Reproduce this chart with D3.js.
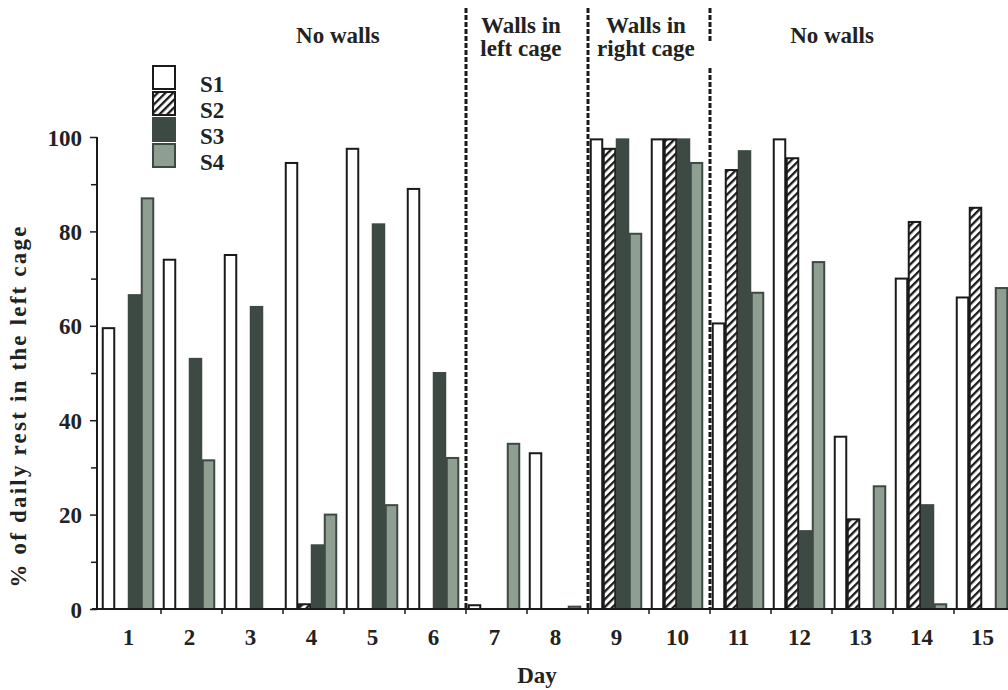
<!DOCTYPE html>
<html>
<head>
<meta charset="utf-8">
<script src="https://cdn.jsdelivr.net/npm/d3@7"></script>
<style>
  body { margin: 0; background: #fff; }
  svg text { font-family: "Liberation Serif", "Times New Roman", serif; font-weight: bold; fill: #222; }
</style>
</head>
<body>
<script>
const days = [1, 2, 3, 4, 5, 6, 7, 8, 9, 10, 11, 12, 13, 14, 15];
const series = ["S1", "S2", "S3", "S4"];
const s1 = [59.5, 74, 75, 94.5, 97.5, 89, 0.8, 33, 99.5, 99.5, 60.5, 99.5, 36.5, 70, 66];
const s2 = [0, 0, 0, 1, 0, 0, 0, 0, 97.5, 99.5, 93, 95.5, 19, 82, 85];
const s3 = [66.5, 53, 64, 13.5, 81.5, 50, 0, 0, 99.5, 99.5, 97, 16.5, 0, 22, 0];
const s4 = [87, 31.5, 0, 20, 22, 32, 35, 0.5, 79.5, 94.5, 67, 73.5, 26, 1, 68];
const yTicks = [0, 20, 40, 60, 80, 100];
const phaseLabels = [["No walls"], ["Walls in", "left cage"], ["Walls in", "right cage"], ["No walls"]];
const phaseStarts = [7, 9, 11];

const values = [s1, s2, s3, s4];
const w = 1008, h = 690;

const svg = d3.select("body")
              .append("svg")
              .attr("width", w)
              .attr("height", h)

const defs = svg.append("defs")
defs.append("pattern")
    .attr("id", "hatch")
    .attr("patternUnits", "userSpaceOnUse")
    .attr("width", 5.5)
    .attr("height", 5.5)
    .attr("patternTransform", "rotate(45)")
    .call(p => {
      p.append("rect").attr("width", 5.5).attr("height", 5.5).attr("fill", "#fff")
      p.append("rect").attr("x", 0).attr("width", 2.3).attr("height", 5.5).attr("fill", "#1a1a1a")
    })

const fills = {S1: "#fff", S2: "url(#hatch)", S3: "#3d4a44", S4: "#8e9f92"};
const strokes = {S1: "#1a1a1a", S2: "#1a1a1a", S3: "#3d4a44", S4: "#3d4a44"};

const x = d3.scaleBand()
            .domain(days)
            .range([100, 100 + 61 * 15])

const xs = d3.scaleBand()
             .domain(series)
             .range([2, 54])

const y = d3.scaleLinear()
            .domain([0, 100])
            .range([609, 137])

// y axis
const yAxis = d3.axisLeft(y)
                .tickValues(yTicks)
                .tickSize(7)
                .tickPadding(8)
                .tickFormat(d3.format("d"))

svg.append("g")
   .attr("transform", "translate(97,0)")
   .call(yAxis)
   .call(g => g.select(".domain").remove())
   .call(g => g.selectAll(".tick text").style("font-size", "23px").attr("dy", "0.35em"))
   .call(g => g.selectAll(".tick line").attr("stroke", "#1a1a1a").attr("stroke-width", 1.5))

svg.append("g")
   .attr("transform", "translate(97,0)")
   .call(d3.axisLeft(y).tickValues([10, 30, 50, 70, 90]).tickSize(6).tickFormat(""))
   .call(g => g.select(".domain").remove())
   .call(g => g.selectAll(".tick line").attr("stroke", "#1a1a1a").attr("stroke-width", 1.5))

svg.append("line")
   .attr("x1", 97).attr("x2", 97)
   .attr("y1", y(100)).attr("y2", y(0))
   .attr("stroke", "#1a1a1a")
   .attr("stroke-width", 2)

// bars
const groups = svg.append("g")
                  .selectAll("g")
                  .data(days)
                  .enter()
                  .append("g")
                  .attr("transform", d => "translate(" + x(d) + ",0)")

groups.selectAll("rect")
      .data((d, i) => series.map((s, k) => ({s: s, v: values[k][i]})))
      .enter()
      .filter(d => d.v > 0)
      .append("rect")
      .attr("x", d => xs(d.s) + 0.75)
      .attr("width", xs.bandwidth() - 1.5)
      .attr("y", d => y(d.v))
      .attr("height", d => y(0) - y(d.v))
      .attr("fill", d => fills[d.s])
      .attr("stroke", d => strokes[d.s])
      .attr("stroke-width", 2)

// x axis
svg.append("line")
   .attr("x1", 92).attr("x2", w)
   .attr("y1", y(0)).attr("y2", y(0))
   .attr("stroke", "#1a1a1a")
   .attr("stroke-width", 2)

const xAxis = d3.axisBottom(x)
                .tickSize(0)
                .tickPadding(20)

svg.append("g")
   .attr("transform", "translate(-2," + y(0) + ")")
   .call(xAxis)
   .call(g => g.select(".domain").remove())
   .call(g => g.selectAll(".tick text").style("font-size", "23px"))

svg.append("g")
   .selectAll("line")
   .data(days.slice(1))
   .enter()
   .append("line")
   .attr("x1", d => x(d)).attr("x2", d => x(d))
   .attr("y1", y(0)).attr("y2", y(0) + 5)
   .attr("stroke", "#1a1a1a")
   .attr("stroke-width", 1.5)

// phase separators
phaseStarts.forEach(d => {
  const segs = d === 11 ? [[8, 42], [68, y(0)]] : [[8, y(0)]];
  segs.forEach(s => {
    svg.append("line")
       .attr("x1", x(d)).attr("x2", x(d))
       .attr("y1", s[0]).attr("y2", s[1])
       .attr("stroke", "#1a1a1a")
       .attr("stroke-width", 3)
       .attr("stroke-dasharray", "5,2")
  })
})

// phase labels (placed over the days below them, as in the figure)
const labelDay = [4.9, 7.9, 9.95, 13.0];
phaseLabels.forEach((lines, j) => {
  const cx = x(Math.floor(labelDay[j])) + x.bandwidth() * (labelDay[j] % 1);
  const t = svg.append("text")
               .attr("text-anchor", "middle")
               .style("font-size", "23px")
  if (lines.length === 1) {
    t.attr("x", cx).attr("y", 43).text(lines[0])
  } else {
    lines.forEach((l, i) => {
      t.append("tspan").attr("x", cx).attr("y", 33 + i * 23).text(l)
    })
  }
})

// legend
const legend = svg.append("g")
                  .attr("id", "legend")
series.forEach((s, i) => {
  legend.append("rect")
        .attr("x", 153)
        .attr("y", 66 + i * 26)
        .attr("width", 22)
        .attr("height", 23)
        .attr("fill", fills[s])
        .attr("stroke", strokes[s])
        .attr("stroke-width", 2)
  legend.append("text")
        .attr("x", 200)
        .attr("y", 92 + i * 26)
        .style("font-size", "23px")
        .text(s)
})

// axis titles
svg.append("text")
   .attr("transform", "translate(26,406) rotate(-90)")
   .attr("text-anchor", "middle")
   .style("font-size", "23px")
   .style("letter-spacing", "2.2px")
   .text("% of daily rest in the left cage")

svg.append("text")
   .attr("x", 537)
   .attr("y", 683)
   .attr("text-anchor", "middle")
   .style("font-size", "23px")
   .text("Day")
</script>
</body>
</html>
